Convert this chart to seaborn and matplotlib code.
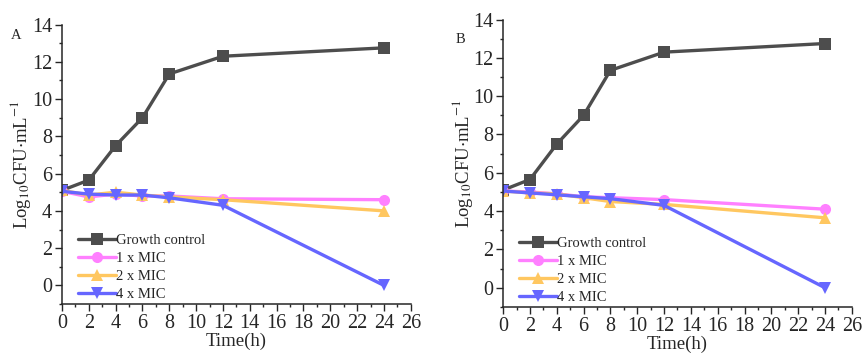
import numpy as np
import pandas as pd
import matplotlib
matplotlib.use("Agg")
import matplotlib.pyplot as plt
import seaborn as sns
from matplotlib.ticker import MultipleLocator

time_h = [0, 2, 4, 6, 8, 12, 24]
series_names = ["Growth control", "1 x MIC", "2 x MIC", "4 x MIC"]

a_growth = [5.1, 5.65, 7.5, 9.0, 11.35, 12.3, 12.75]
a_1mic = [5.05, 4.75, 4.9, 4.8, 4.8, 4.65, 4.6]
a_2mic = [5.1, 4.85, 5.0, 4.85, 4.75, 4.6, 4.0]
a_4mic = [5.05, 4.9, 4.85, 4.85, 4.7, 4.3, 0.0]

b_growth = [5.1, 5.65, 7.5, 9.0, 11.35, 12.3, 12.75]
b_1mic = [5.05, 5.0, 4.9, 4.75, 4.7, 4.6, 4.1]
b_2mic = [5.05, 4.95, 4.9, 4.7, 4.5, 4.35, 3.65]
b_4mic = [5.05, 4.95, 4.85, 4.75, 4.65, 4.3, 0.0]

panel_labels = ["A", "B"]

colors = {"Growth control": "#4d4d4d", "1 x MIC": "#ff80ff",
          "2 x MIC": "#ffc760", "4 x MIC": "#6666ff"}
markers = {"Growth control": "s", "1 x MIC": "o", "2 x MIC": "^", "4 x MIC": "v"}

sns.set_style("ticks")
plt.rcParams["font.family"] = ["Liberation Serif", "DejaVu Serif"]
plt.rcParams["mathtext.fontset"] = "stix"


def make_df(vals):
    rows = []
    for name, v in zip(series_names, vals):
        for t, y in zip(time_h, v):
            rows.append({"Time": t, "Value": y, "Series": name})
    return pd.DataFrame(rows)


fig = plt.figure(figsize=(8.63, 3.56), dpi=100)
axA = fig.add_axes([0.0718, 0.146, 0.4042, 0.785])
axB = fig.add_axes([0.583, 0.138, 0.404, 0.807])

label_pos = {"A": (-0.132, 0.96), "B": (-0.123, 0.932)}

for ax, vals, lab in [(axA, [a_growth, a_1mic, a_2mic, a_4mic], panel_labels[0]),
                      (axB, [b_growth, b_1mic, b_2mic, b_4mic], panel_labels[1])]:
    df = make_df(vals)
    sns.lineplot(data=df, x="Time", y="Value", hue="Series", style="Series",
                 palette=colors, markers=markers, dashes=False, ax=ax,
                 linewidth=2.4, markersize=8, markeredgewidth=0)
    ax.set_xlim(0, 26)
    ax.set_ylim(-1, 14)
    ax.xaxis.set_major_locator(MultipleLocator(2))
    ax.xaxis.set_minor_locator(MultipleLocator(1))
    ax.yaxis.set_minor_locator(MultipleLocator(1))
    ax.set_yticks([0, 2, 4, 6, 8, 10, 12, 14])
    ax.tick_params(axis="both", which="major", direction="out", length=5,
                   width=1, labelsize=14.5, pad=2)
    ax.tick_params(axis="both", which="minor", direction="out", length=2.5, width=1)
    for s in ["left", "bottom"]:
        ax.spines[s].set_linewidth(1.1)
    sns.despine(ax=ax)
    ax.set_xlabel("Time(h)", fontsize=13.5, labelpad=0)
    ax.set_ylabel(r"Log$_{10}$CFU$\cdot$mL$^{-1}$", fontsize=13.5, labelpad=-1)
    lx, ly = label_pos[lab]
    ax.text(lx, ly, lab, transform=ax.transAxes, fontsize=10.5,
            ha="center", va="center")
    leg = ax.legend(loc="lower left", bbox_to_anchor=(0.02, -0.02), frameon=False,
                    fontsize=10.5, handlelength=2.6, handletextpad=0.05,
                    labelspacing=0.33, borderaxespad=0.2)
    leg.set_title(None)

fig.savefig("out.png", dpi=100)
